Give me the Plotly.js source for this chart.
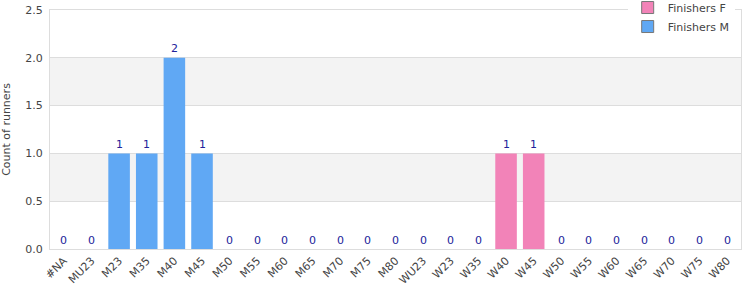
<!DOCTYPE html>
<html>
<head>
<meta charset="utf-8">
<script src="https://cdn.plot.ly/plotly-3.0.1.min.js"></script>
<style>html,body{margin:0;padding:0;background:#fff;}#chart{width:750px;height:300px;}</style>
</head>
<body>
<div id="chart"></div>
<script>
const categories = ["#NA","MU23","M23","M35","M40","M45","M50","M55","M60","M65","M70","M75","M80","WU23","W23","W35","W40","W45","W50","W55","W60","W65","W70","W75","W80"];
const finishersM = [0,0,1,1,2,1,0,0,0,0,0,0,0,null,null,null,null,null,null,null,null,null,null,null,null];
const finishersF = [null,null,null,null,null,null,null,null,null,null,null,null,null,0,0,0,1,1,0,0,0,0,0,0,0];
const labelValues = [0,0,1,1,2,1,0,0,0,0,0,0,0,0,0,0,1,1,0,0,0,0,0,0,0];
const seriesNames = ["Finishers F","Finishers M"];
const seriesColors = ["#f283b8","#60a8f4"];

const font = "DejaVu Sans, Verdana, sans-serif";
const traces = [
  {type:"bar", name:seriesNames[0], x:categories, y:finishersF, marker:{color:seriesColors[0]}, hoverinfo:"skip", showlegend:false},
  {type:"bar", name:seriesNames[1], x:categories, y:finishersM, marker:{color:seriesColors[1]}, hoverinfo:"skip", showlegend:false},
  {type:"bar", name:seriesNames[0], x:[categories[0]], y:[null], marker:{color:seriesColors[0], line:{color:"#777", width:1}}},
  {type:"bar", name:seriesNames[1], x:[categories[0]], y:[null], marker:{color:seriesColors[1], line:{color:"#777", width:1}}}
];
const annotations = categories.map((c, i) => ({
  x:c, y:labelValues[i], xref:"x", yref:"y", text:String(labelValues[i]), showarrow:false,
  yanchor:"middle", yshift:9, font:{color:"#22229a", size:11, family:font}
}));
const layout = {
  width:750, height:300,
  margin:{l:50, r:9, t:10, b:51, autoexpand:false},
  paper_bgcolor:"#fff", plot_bgcolor:"#fff",
  font:{family:font, size:11, color:"#444"},
  barmode:"overlay", bargap:0.22,
  showlegend:true,
  legend:{x:0.836, y:1.071, xanchor:"left", yanchor:"top", bgcolor:"#fff", font:{size:11, color:"#444"}, tracegroupgap:0},
  xaxis:{type:"category", range:[-0.5, categories.length-0.5], tickangle:-45, showgrid:false, showline:true, mirror:true, linecolor:"#ddd", linewidth:1, ticks:"", tickfont:{size:11, color:"#444"}, automargin:false},
  yaxis:{range:[0,2.5], dtick:0.5, tickformat:".1f", showgrid:true, gridcolor:"#ddd", showline:true, mirror:true, linecolor:"#ddd", zeroline:false, automargin:true, ticklabelstandoff:4,
         title:{text:"Count of runners", font:{size:11, color:"#444"}, standoff:12}, tickfont:{size:11, color:"#444"}},
  annotations:annotations,
  shapes:[
    {type:"rect", xref:"paper", yref:"y", x0:0, x1:1, y0:0.5, y1:1.0, fillcolor:"#f3f3f3", line:{width:0}, layer:"below"},
    {type:"rect", xref:"paper", yref:"y", x0:0, x1:1, y0:1.5, y1:2.0, fillcolor:"#f3f3f3", line:{width:0}, layer:"below"}
  ]
};
Plotly.newPlot("chart", traces, layout, {displayModeBar:false, staticPlot:true});
</script>
</body>
</html>
